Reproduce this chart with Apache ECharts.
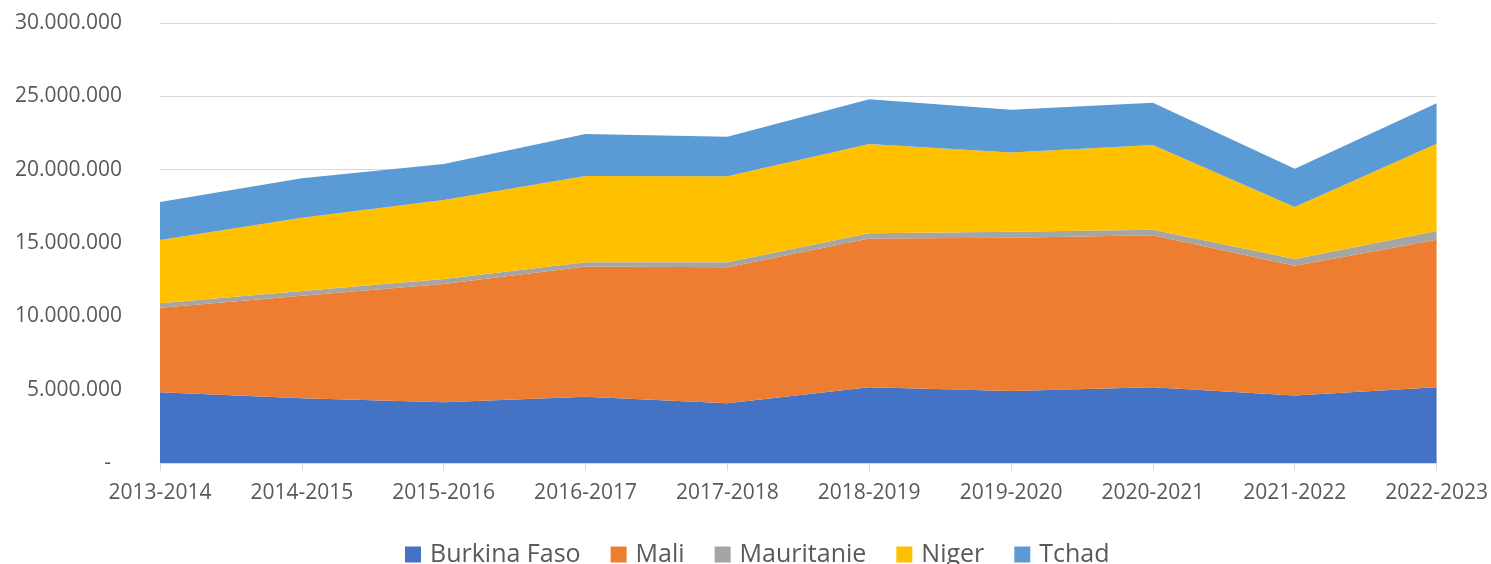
<!DOCTYPE html>
<html>
<head>
<meta charset="utf-8">
<title>Stacked area</title>
<script src="https://cdn.jsdelivr.net/npm/echarts@6/dist/echarts.min.js"></script>
<style>
  html, body { margin: 0; padding: 0; background: #fff; }
  #chart { width: 1491px; height: 564px; }
</style>
</head>
<body>
<div id="chart"></div>
<script type="text/javascript">
// categories (campagnes)
var years = ['2013-2014', '2014-2015', '2015-2016', '2016-2017', '2017-2018',
             '2018-2019', '2019-2020', '2020-2021', '2021-2022', '2022-2023'];

// values
var burkina    = [4820000, 4410000, 4140000, 4520000, 4070000, 5160000, 4910000, 5160000, 4610000, 5160000];
var mali       = [5770000, 7000000, 8060000, 8870000, 9270000, 10140000, 10450000, 10360000, 8840000, 10070000];
var mauritanie = [300000, 320000, 350000, 300000, 350000, 360000, 410000, 390000, 460000, 590000];
var niger      = [4310000, 5000000, 5380000, 5880000, 5860000, 6090000, 5400000, 5770000, 3540000, 5950000];
var tchad      = [2600000, 2680000, 2460000, 2860000, 2700000, 3050000, 2920000, 2890000, 2620000, 2750000];

var seriesNames = ['Burkina Faso', 'Mali', 'Mauritanie', 'Niger', 'Tchad'];
var seriesData = [burkina, mali, mauritanie, niger, tchad];
var colors = ['#4472C4', '#ED7D31', '#A5A5A5', '#FFC000', '#5B9BD5'];

var font = '"Open Sans", "Noto Sans", sans-serif';

function fmt(v) {
    if (v === 0) return '-  ';
    return String(v).replace(/\B(?=(\d{3})+(?!\d))/g, '.');
}

var myChart = echarts.init(document.getElementById('chart'));

var series = [];
for (var i = 0; i < seriesNames.length; i++) {
    series.push({
        name: seriesNames[i],
        type: 'line',
        stack: 'total',
        data: seriesData[i],
        symbol: 'none',
        lineStyle: { width: 0 },
        areaStyle: { color: colors[i], opacity: 1 },
        itemStyle: { color: colors[i] }
    });
}

var option = {
    animation: false,
    color: colors,
    grid: { left: 160, right: 54, top: 23, bottom: 101 },
    legend: {
        data: seriesNames,
        left: 400,
        top: 537,
        itemWidth: 16,
        itemHeight: 16,
        itemGap: 30,
        icon: 'rect',
        textStyle: { fontFamily: font, fontSize: 25, color: '#595959', padding: [0, 0, 0, 4] }
    },
    xAxis: {
        type: 'category',
        data: years,
        boundaryGap: false,
        axisLine: { lineStyle: { color: '#d9d9d9', width: 1 } },
        axisTick: { show: true, length: 8, lineStyle: { color: '#d9d9d9' } },
        axisLabel: { fontFamily: font, fontSize: 21, color: '#595959', margin: 20 }
    },
    yAxis: {
        type: 'value',
        min: 0,
        max: 30000000,
        interval: 5000000,
        axisLine: { show: false },
        axisTick: { show: false },
        splitLine: { lineStyle: { color: '#d9d9d9', width: 1 } },
        axisLabel: { fontFamily: font, fontSize: 21, color: '#595959', margin: 38, formatter: fmt }
    },
    series: series
};

myChart.setOption(option);
</script>
</body>
</html>
